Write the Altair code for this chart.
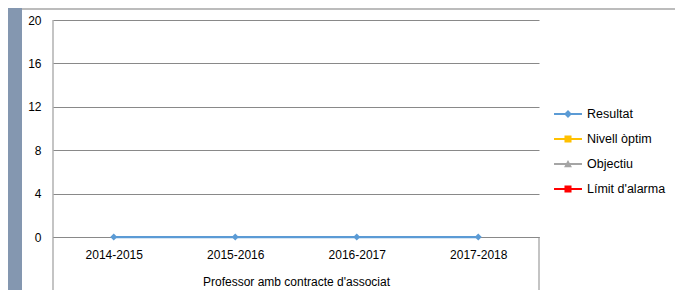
import altair as alt
import pandas as pd

categories = ["2014-2015", "2015-2016", "2016-2017", "2017-2018"]
resultat = [0, 0, 0, 0]
series = ["Resultat", "Nivell òptim", "Objectiu", "Límit d'alarma"]
series_colors = ["#5B9BD5", "#FFC000", "#A5A5A5", "#FF0000"]
y_ticks = [0, 4, 8, 12, 16, 20]
x_title = "Professor amb contracte d'associat"

FONT = "Liberation Sans"
GRID = "#898989"

# legend symbols: line + marker (custom paths, unit coords)
line_part = "M-1.27,-0.09H1.27V0.09H-1.27Z"
sym_paths = [
    line_part + "M0,-0.36L0.36,0L0,0.36L-0.36,0Z",
    line_part + "M-0.32,-0.32H0.32V0.32H-0.32Z",
    line_part + "M0,-0.36L0.36,0.3L-0.36,0.3Z",
    line_part + "M-0.32,-0.32H0.32V0.32H-0.32Z",
]

df = pd.DataFrame({"period": categories, "value": resultat})
leg_df = pd.DataFrame({"series": series, "period": [categories[0]] * 4, "value": [None] * 4})
one = pd.DataFrame({"a": [0]})

xenc = alt.X(
    "period:N",
    sort=categories,
    scale=alt.Scale(type="point", padding=0.5, domain=categories),
    axis=alt.Axis(
        title=x_title, labelAngle=0, ticks=False, domain=True, domainColor=GRID,
        labelPadding=12, labelFontSize=12, labelFont=FONT, labelColor="#000",
        titleFont=FONT, titleFontSize=12, titleFontWeight="normal", titleColor="#000",
        titlePadding=16, grid=False,
    ),
)
yenc = alt.Y(
    "value:Q",
    scale=alt.Scale(domain=[0, 20], nice=False, zero=True),
    axis=alt.Axis(
        title=None, values=y_ticks, grid=True, gridColor=GRID, gridWidth=1,
        domain=False, ticks=False, labelPadding=12, labelFontSize=12,
        labelFont=FONT, labelColor="#000",
    ),
)

frame_bar = alt.Chart(one).mark_rect(color="#8497B0").encode(
    x=alt.value(-45), x2=alt.value(-31), y=alt.value(-12), y2=alt.value(270)
)
frame_top = alt.Chart(one).mark_rule(color="#A6A6A6", strokeWidth=1.5).encode(
    x=alt.value(-31), x2=alt.value(626), y=alt.value(-11)
)
frame_right = alt.Chart(one).mark_rule(color="#A6A6A6", strokeWidth=1.5).encode(
    x=alt.value(626), y=alt.value(-12), y2=alt.value(270)
)
left_line = alt.Chart(one).mark_rule(color=GRID, strokeWidth=1).encode(
    x=alt.value(0), y=alt.value(0), y2=alt.value(270)
)
right_tick = alt.Chart(one).mark_rule(color=GRID, strokeWidth=1).encode(
    x=alt.value(486), y=alt.value(217), y2=alt.value(270)
)

line = alt.Chart(df).mark_line(color=series_colors[0], strokeWidth=2.25).encode(x=xenc, y=yenc)
pts = alt.Chart(df).mark_point(
    shape="diamond", filled=True, size=49, color=series_colors[0], opacity=1
).encode(x=xenc, y=yenc)

leg = alt.Legend(
    title=None, orient="none", legendX=504, legendY=83, padding=0,
    symbolSize=484, rowPadding=7, labelOffset=8, labelFontSize=12.5,
    labelFont=FONT, labelColor="#000", labelLimit=200, symbolStrokeWidth=0,
    symbolOpacity=1,
)
legend_layer = alt.Chart(leg_df).mark_point(filled=True, opacity=1).encode(
    x=xenc, y=yenc,
    color=alt.Color("series:N", scale=alt.Scale(domain=series, range=series_colors), legend=leg),
    shape=alt.Shape("series:N", scale=alt.Scale(domain=series, range=sym_paths), legend=leg),
)

chart = alt.layer(
    frame_bar, frame_top, frame_right, left_line, right_tick, legend_layer, line, pts
).properties(
    width=486, height=217,
    autosize=alt.AutoSizeParams(type="none"),
    padding={"left": 45, "top": 12, "right": 136, "bottom": 53},
    background="white",
).configure_view(strokeWidth=0)

chart.save("out.html", embed_options={"renderer": "svg", "actions": False})
